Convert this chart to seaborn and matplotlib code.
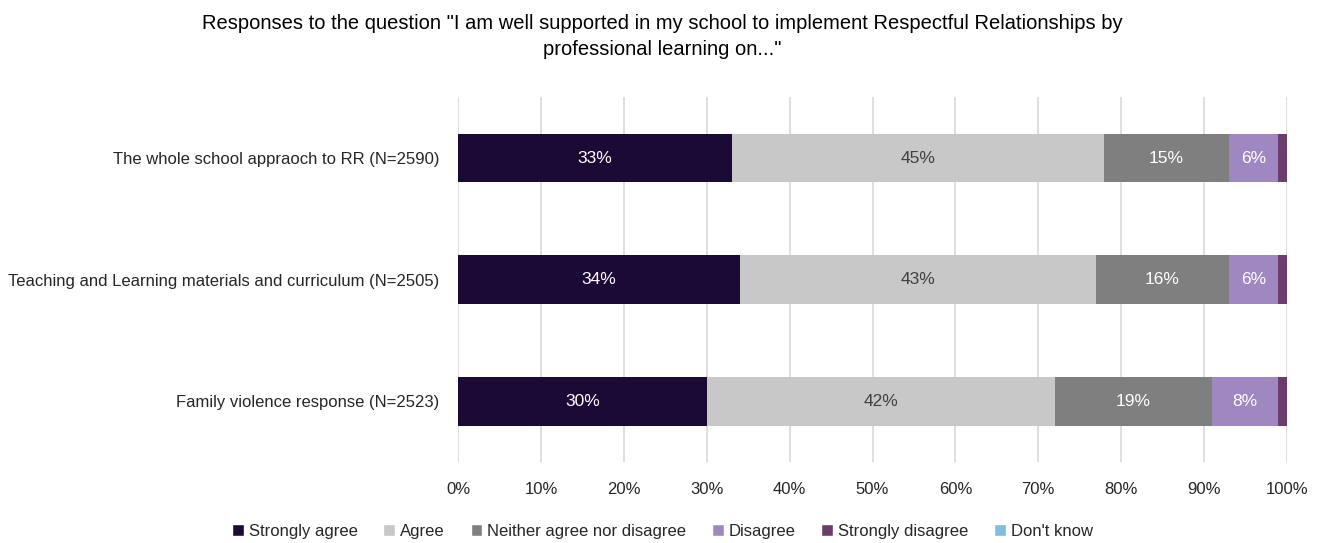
import pandas as pd
import matplotlib
matplotlib.use('Agg')
import matplotlib.pyplot as plt
import seaborn as sns
from matplotlib.patches import Patch

## datos del grafico
items = ['The whole school appraoch to RR (N=2590)',
         'Teaching and Learning materials and curriculum (N=2505)',
         'Family violence response (N=2523)']
respuestas = ['Strongly agree', 'Agree', 'Neither agree nor disagree',
              'Disagree', 'Strongly disagree', "Don't know"]
strongly_agree = [33, 34, 30]
agree = [45, 43, 42]
neither = [15, 16, 19]
disagree = [6, 6, 8]
strongly_disagree = [1, 1, 1]
dont_know = [0, 0, 0]

colores = ['#1c0a36', '#c8c8c8', '#7f7f7f', '#9f88c1', '#6a3d6c', '#7dbfdc']
color_texto = ['white', '#404040', 'white', 'white', 'white', 'white']

df = pd.DataFrame({'item': items,
                   respuestas[0]: strongly_agree,
                   respuestas[1]: agree,
                   respuestas[2]: neither,
                   respuestas[3]: disagree,
                   respuestas[4]: strongly_disagree,
                   respuestas[5]: dont_know})

sns.set_style("white")
plt.rcParams['font.family'] = ['Liberation Sans', 'DejaVu Sans']

fig, ax = plt.subplots(figsize=(13.25, 5.43), dpi=100)
fig.subplots_adjust(left=0.346, right=0.971, top=0.821, bottom=0.149)

# barras apiladas: se dibuja el acumulado, del mayor al menor
acum = df[respuestas].cumsum(axis=1)
for i in reversed(range(len(respuestas))):
    sns.barplot(x=acum[respuestas[i]], y=df['item'], color=colores[i],
                orient='h', width=0.4, saturation=1, linewidth=0, ax=ax, zorder=3)

# etiquetas de porcentaje
for i, resp in enumerate(respuestas):
    for j in range(len(items)):
        val = df[resp][j]
        if val < 3:
            continue
        centro = acum[resp][j] - val / 2
        ax.text(centro, j, f'{val}%', ha='center', va='center',
                color=color_texto[i], fontsize=12.5, zorder=4)

ax.set_xlim(0, 100)
ax.set_ylim(2.5, -0.5)
ax.set_xticks(range(0, 101, 10))
ax.set_xticklabels([f'{t}%' for t in range(0, 101, 10)])
ax.xaxis.grid(True, color='#d9d9d9', linewidth=1.2, zorder=0)
ax.set_axisbelow(True)
ax.tick_params(axis='both', length=0, labelsize=12, colors='#262626')
ax.tick_params(axis='x', pad=14)
ax.tick_params(axis='y', pad=14)
ax.set_xlabel('')
ax.set_ylabel('')
for s in ax.spines.values():
    s.set_visible(False)

fig.suptitle('Responses to the question "I am well supported in my school to implement Respectful Relationships by\nprofessional learning on..."',
             fontsize=14.5, x=0.5, y=0.975, color='black', linespacing=1.5)

handles = [Patch(facecolor=c, label=r) for c, r in zip(colores, respuestas)]
fig.legend(handles=handles, loc='lower center', ncol=6, frameon=False,
           bbox_to_anchor=(0.5, -0.02), fontsize=12, handlelength=0.7,
           handleheight=0.7, handletextpad=0.3, columnspacing=1.55)

plt.savefig('out.png', dpi=100)
